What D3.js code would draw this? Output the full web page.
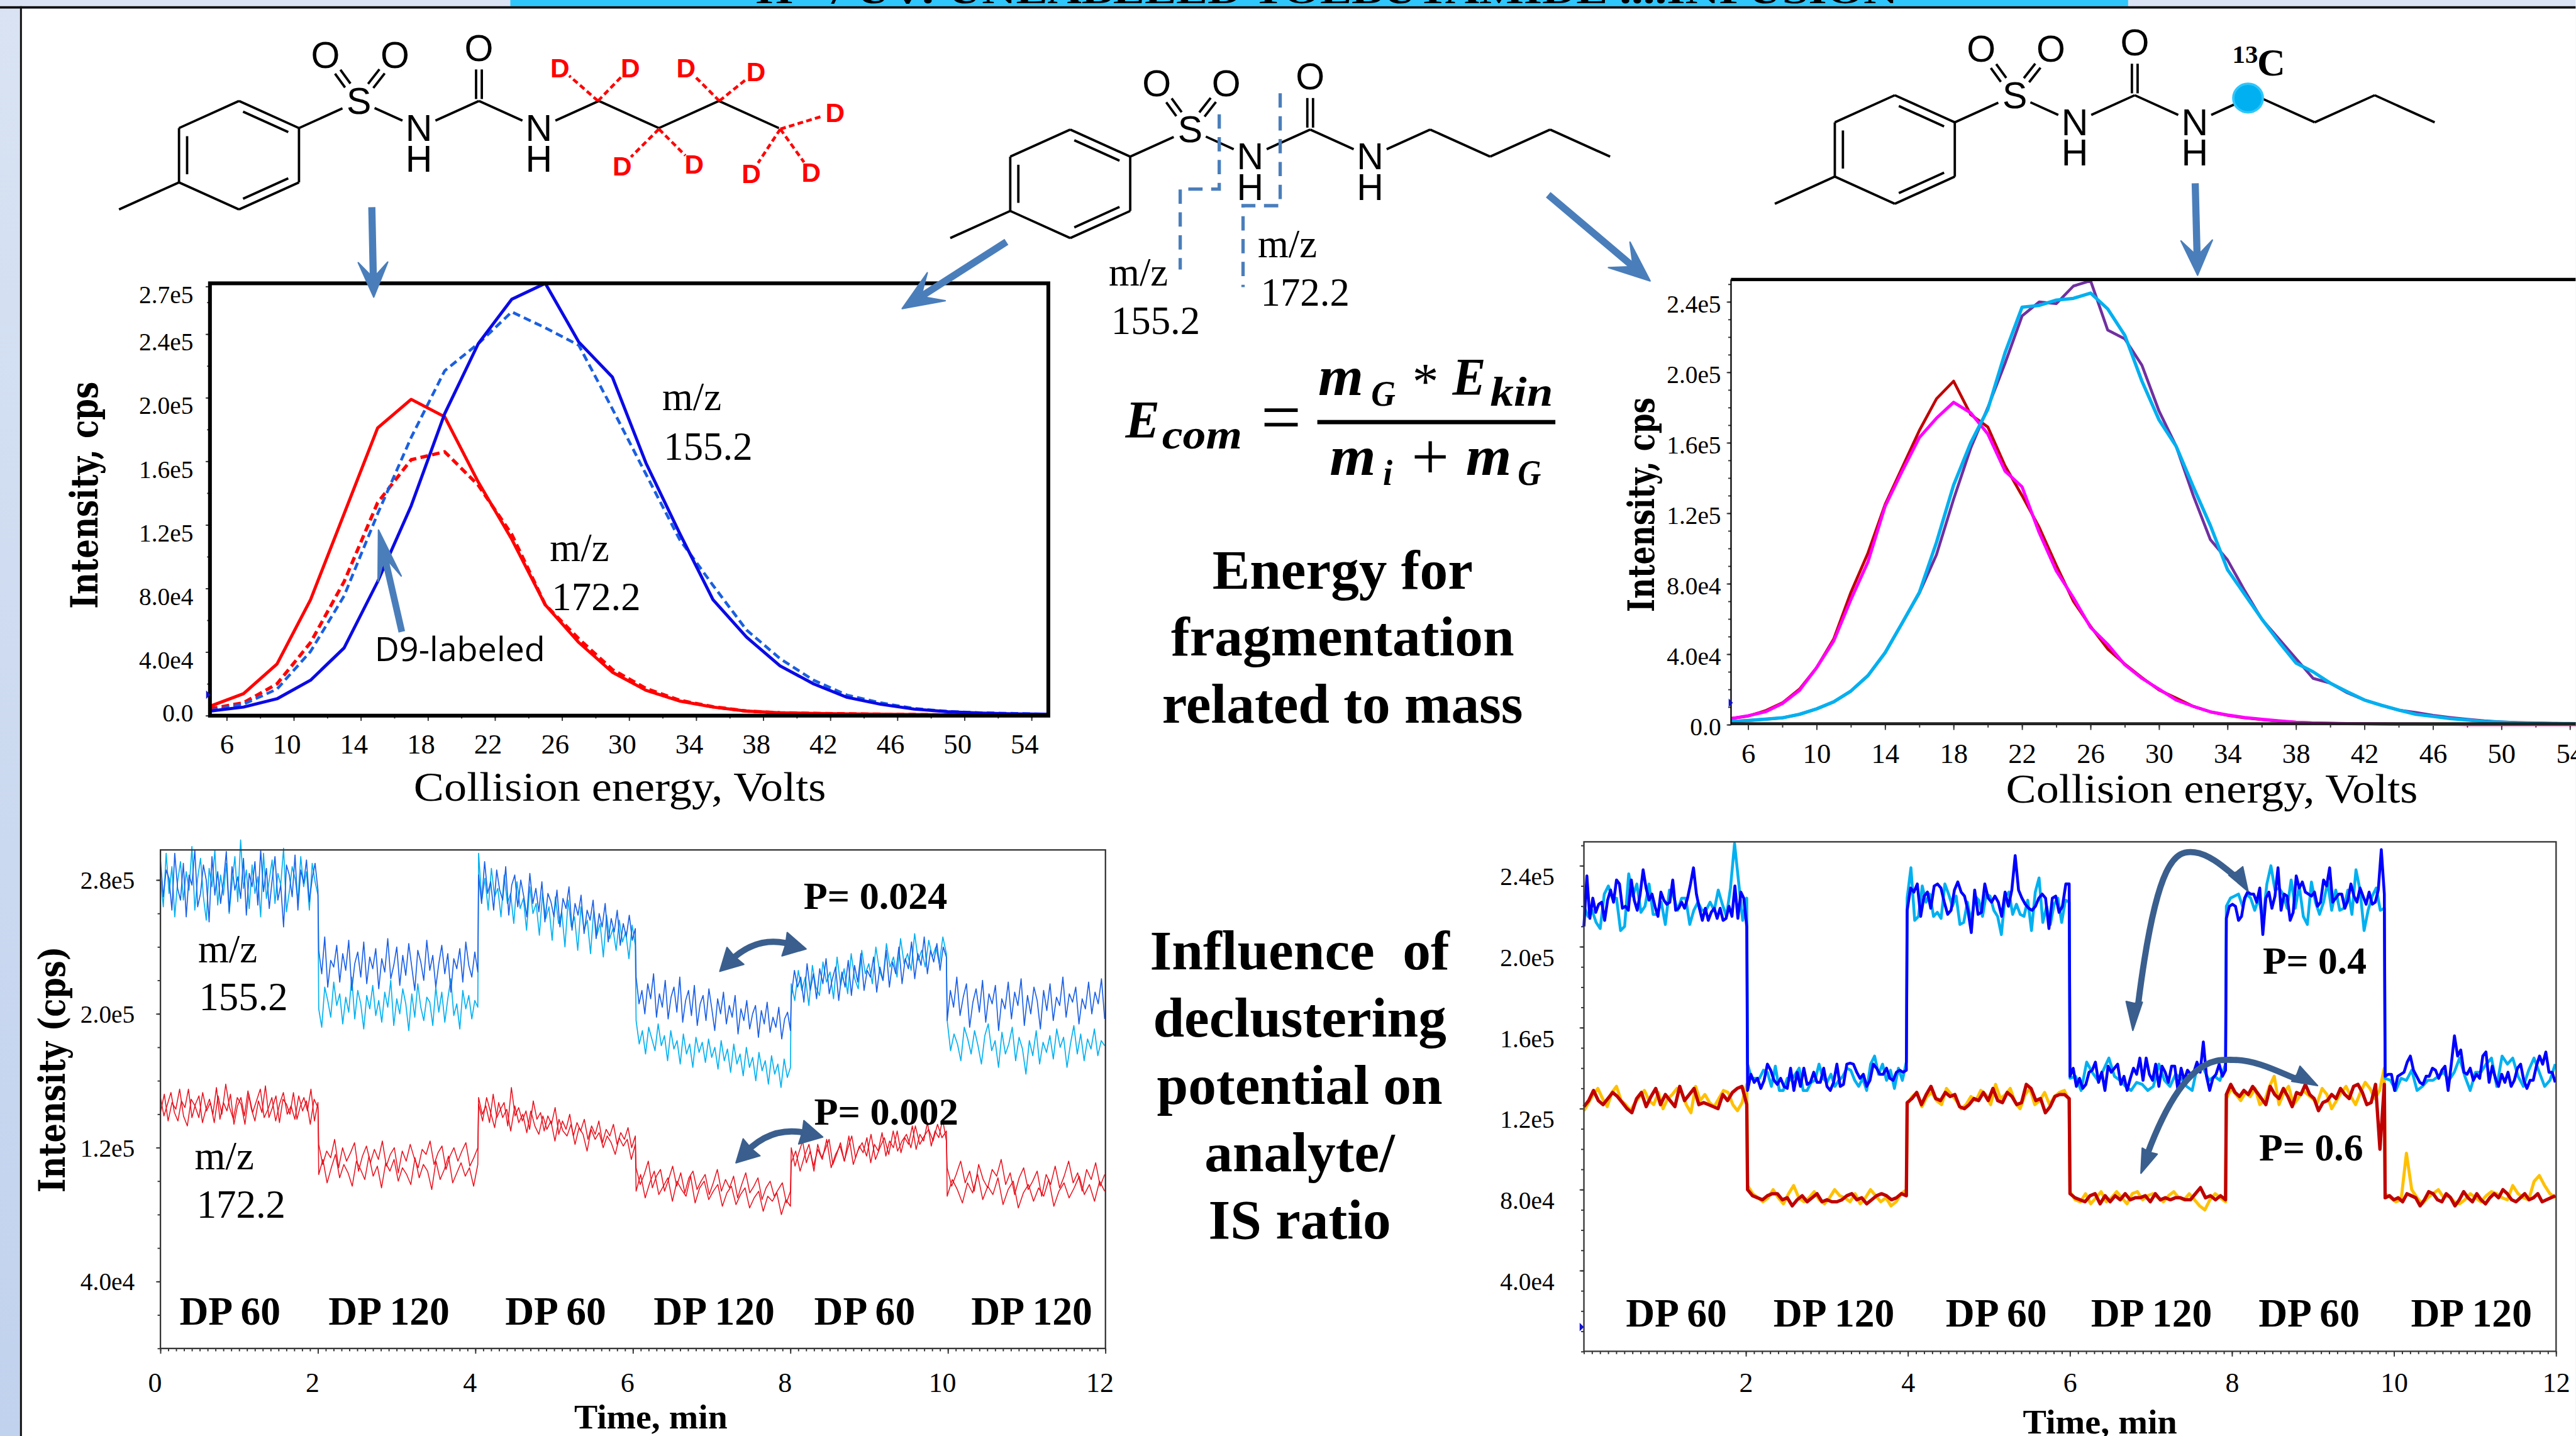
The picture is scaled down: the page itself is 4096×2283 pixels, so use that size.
<!DOCTYPE html>
<meta charset="utf-8">
<style>
body { margin:0; background:white; overflow:hidden; }
text { font-family:"Liberation Serif"; }
</style>
<script src="https://d3js.org/d3.v7.min.js"></script>
<div id="chart"></div>
<script>

// collision energy curves, intensity in thousands of cps
var voltsL = [5,7,9,11,13,15,17,19,21,23,25,27,29,31,33,35,37,39,41,43,45,47,49,51,53,55];
var red172 = [5.9,13.8,32.5,73,127,181,199,188,147,111,69.7,46,27.3,16,9.2,5.4,2.9,1.8,1.4,1.1,.9,.7,.5,.3,.2,.2];
var red172D9 = [4.3,8.1,20,46,84.3,134,161,166,145,114,69.7,48.3,29,17.1,9.7,5.6,2.9,1.8,1.4,1.1,.9,.7,.5,.3,.2,.2];
var blue155 = [2.9,5.4,10.6,22.3,42.6,84.3,132,190,234,262,272,235,213,159,115,73,49.4,31.3,20,11.5,7.2,4.1,2.5,1.6,1.1,.9];
var blue155D9 = [3.2,7.2,16.7,40.4,75.3,127,175,217,234,254,244,233,193,152,111,82,53.9,35.9,22.3,12.9,8.1,4.5,2.7,1.8,1.4,.9];

var voltsR = [5,6,7,8,9,10,11,12,13,14,15,16,17,18,19,20,21,22,23,24,25,26,27,28,29,30,31,32,33,34,35,36,37,38,39,40,41,42,43,44,45,46,47,48,49,50,51,52,53,54,55];
var darkRed = [3.5,4.9,7.9,12.4,20.2,32.4,48.7,75.1,97.5,125,146,167,185,195,176,169,147,130,112,90.4,70,55.8,43,34.4,26.7,19.7,15.1,10.4,7.3,5.3,3.9,2.9,2,1.4,1,.8,.6,.5,.4,.3,.3,.2,.2,.1,.1,.1,.1,.1,.1,.1,.1];
var magenta = [3.5,5.1,7.3,12,19.5,32.4,47.6,71,92.4,124,144,163,174,183,177,165,144,135,109,87.3,72,55.2,45.6,34,26.3,20.2,14,10.4,7.3,5.5,4.1,3.1,2.2,1.4,1,.8,.6,.5,.4,.3,.3,.2,.2,.1,.1,.1,.1,.1,.1,.1,.1];
var purple = [1.8,2.4,3.1,3.9,5.9,9,13,19.1,27.9,40.9,57.8,74.7,96.5,128,157,180,205,232,240,239,249,252,224,219,204,178,158,130,105,93.5,76.1,59.9,48.7,37.5,26.3,23.6,18.1,14,11,8.3,6.9,5.3,4.1,3.1,2.2,1.6,1.2,1,.8,.6,.5];
var cyan = [1.8,2.4,3.1,3.9,5.9,9,13,19.1,27.9,40.9,57.8,75.1,103.5,136,160,179,211,237,238,241,242,245,236,221,195,173,158,135,113,88,74,60,47,35,30,23.6,18.7,14,11,8.3,5.9,4.7,3.5,2.7,1.8,1.4,1,.8,.6,.6,.5];

// declustering potential traces, one inner list per DP step
var edgesL = [0,2.01,4.04,6.04,8.01,9.99,12];
var dp155dark = [
 [292,270,286,281,262,296,275,268,290,258,283,277,298,264,272,289,280,255,294,271,285,266,279,297,261,288,274,282,269,293,259,284,276,291,265,298,273,287,263,280,294,268,277,252,289,283,270,295,262,286,278,292,267,281,290,274],
 [238,224,246,216,232,228,241,219,236,226,244,214,230,237,222,243,218,234,227,239,215,233,225,245,221,229,240,217,235,223,242,228,214,238,231,220,244,226,235,216,230,241,224,236,213,233,227,239,219,243,229,222,237,225],
 [283,266,291,272,279,262,286,274,268,288,259,277,283,264,280,270,258,284,266,275,261,279,255,272,267,258,274,252,269,263,276,250,266,259,271,248,262,256,268,245,260,252,266,243,257,249,262,241,254,246,259,244,251],
 [222,206,214,200,218,209,224,198,212,204,220,197,210,216,201,222,195,208,214,199,217,193,206,211,196,215,203,190,209,200,213,194,205,198,211,188,203,196,208,191,200,205,186,202,194,207,189,198,192,204,185,197,201,190],
 [210,226,216,222,207,230,214,224,209,227,218,233,212,221,228,208,225,216,232,211,229,219,236,214,226,222,234,213,228,220,238,216,231,224,240,218,233,227,243,221,236,229,246,224,238,231,242,226,240,234],
 [196,214,204,222,199,210,218,192,207,215,201,220,195,212,206,217,190,209,203,219,197,213,205,221,193,211,200,216,208,191,214,202,218,196,210,205,222,198,212,207,216,194,209,203,219,200,213,206,221,197]];
var dp155light = [
 [282,264,296,272,288,258,279,291,268,285,274,300,262,281,293,270,256,287,276,298,265,283,271,290,260,278,294,267,304,275,286,263,289,272,282,258,296,269,280,292,266,284,277,299,261,273,288,281,268,294,276,285,262,290,279,271],
 [203,192,216,208,198,219,205,212,194,210,201,222,197,214,206,191,211,203,217,199,208,195,213,204,220,193,209,200,215,206,190,212,198,218,204,196,210,207,193,216,201,213,195,209,221,199,206,191,214,203,211,197,208,204],
 [296,268,281,262,287,270,275,258,283,266,272,254,279,263,269,250,276,260,266,247,272,257,264,244,270,254,261,240,268,252,258,238,264,250,256,236,262,247,254,234,259,245,251,238,256,243,249,233,253,241],
 [196,182,190,176,192,185,178,194,181,187,172,190,179,184,170,188,176,182,168,186,177,183,171,185,174,180,167,184,172,179,165,182,170,176,163,180,168,174,160,177,166,172,158,175,164,170,156,173,162,168],
 [218,208,226,214,222,205,229,216,211,231,219,225,209,234,217,227,212,236,221,215,238,224,230,218,240,226,220,242,228,234,222,245,230,236,226,248,232,238,228,244,234,240,230,246,236],
 [196,178,188,182,172,192,185,176,190,181,170,187,194,178,184,168,189,176,182,192,172,186,179,164,184,175,190,170,183,177,187,173,191,180,186,168,182,193,176,188,172,185,179,191,175,184,181]];
var dp172a = [
 [150,139,146,153,141,136,148,144,155,138,146,151,135,143,149,140,156,137,147,142,152,134,145,150,139,154,143,136,148,141,157,138,144,151,135,149,146,140,153,137,145,150,142,155,136,147],
 [122,110,118,114,125,108,120,112,117,123,106,115,121,111,119,113,124,109,116,120,105,118,112,122,114,108,119,116,124,110,117,121,107,115,120,112,118,123,109,114,120],
 [150,140,145,135,152,138,143,147,133,156,139,144,136,142,131,148,137,141,130,139,134,144,128,136,131,140,127,135,130,137,125,133,128,136,123,131,127,134,122,129,125,132,120,127],
 [108,98,104,112,96,103,107,94,101,109,97,105,93,102,106,95,100,104,92,99,107,94,101,96,103,90,98,105,93,97,102,89,96,100,91,95,99,87,94],
 [120,109,117,124,111,118,106,122,114,119,125,110,116,123,112,120,127,114,121,117,126,111,122,118,129,115,124,120,130,117,126,122,133,119,128,124,135,121,130,126,137,124],
 [108,97,104,112,99,106,94,110,101,96,107,103,113,98,105,92,102,108,95,100,106,91,104,98,109,96,103,112,99,105,94,107,101,111,97,104]];
var dp172b = [
 [141,152,136,147,143,155,139,133,149,145,138,153,142,147,135,151,140,158,144,137,150,146,134,152,141,148,155,138,143,150,136,146,153,140,145,137,151,142,148,134,149,144],
 [104,113,99,108,116,102,110,105,97,112,107,101,115,103,109,96,111,106,113,100,108,104,98,114,102,110,106,95,112,101,107,115,99,105,111,103,108,97,110],
 [146,136,150,141,132,147,138,143,130,145,135,140,129,142,133,128,139,131,136,124,137,130,127,134,122,132,128,118,131,125,129,120,127,123,116,126,121,125,113,122],
 [94,104,90,99,106,92,97,102,88,100,95,91,103,87,96,100,89,94,98,85,93,97,86,92,96,84,90,94,82,91,88,93,80,89,85],
 [111,118,106,115,122,109,119,113,125,108,116,121,112,127,110,118,123,115,128,113,120,126,116,130,118,124,128,120,133,122,127,131,124,134,126,130],
 [91,101,95,87,99,93,104,89,97,92,102,86,95,100,84,93,98,88,96,91,101,85,94,99,90,96,103,92,98,88,100,94]];

var edgesR = [0,2.02,3.99,6,7.93,9.89,12];
var c13blue = [
 [210,235,214,224,217,221,222,213,223,228,222,233,231,219,220,218,233,223,218,226,238,229,223,226,220,215,227,223,221,222,233,218,219,222,219,224,231,239,226,219,213,219,213,217,219,214,219,213,214,220,215,230,214,227,224,210],
 [129,137,133,135,130,134,142,139,134,132,135,131,130,140,129,138,131,140,132,133,138,133,133,140,131,129,133,142,131,132,142,142.5,142,138,135,137,131,134,142,140,137,137,140,135,134,138,139,138,139],
 [218,229,227,231,215,225,227,219,230,231,229,222,216,218,228,232,227,225,218,207,228,216,217,231,224,222,225,222,215,227,220,228,245,228,224,221,219,218,220,224,226,224,209,224,225,217,220,231,231],
 [136,140,131,135,130,132,138,139,143,133,138,129,141,138,140,142,132,136,129,135,140,137,145,134,145,137,134,142,131,141,138,133,141,141,129,140,134,139,137,138,143,138,153,136,129,135,137,142,136,139],
 [214,220,221,220,213,215,224,227,226,226,222,229,206,224,227,219,225,239,218,226,225,213,217,235,229,232,227,226,225,227,220,222,233,230,239,222,224,226,226,219,223,231,225,222,229,225,221,227,221,222,228,248,226],
 [136,137,137,129,136,137,138,143,146,139,136,133,132,136,136,140,139,135,139,141,129,142,156,146,149,138,137,140,134,137,135,146,148,133,141,135,131,137,133,138,131,134,140,142,134,130,134,134,141,146,142,148,138,138,133]];
var c13cyan = [
 [220,215,218,212,209,226,230,224,224,208,210,236,225,231,217,220,231,216,216,222,211,228,225,218,224,224,211,218,222,218,218,222,218,228,221,215,229,251,232,213,224],
 [142,135,135,135,139,138,131,141,129,129,135,134,137,140,129,129,133,134,142,135,133,137,131,134,136,140,139,134,131,135,129,142,146,137,142,134,139,130,140,134,143],
 [224,239,213,215,230,222,226,215,217,214,231,226,220,225,211,212,222,212,225,223,215,226,225,218,215,206,225,227,216,221,216,215,223,208,227,234,212,220,211,221,224,212,223,222],
 [135,136,129,143,138,134,139,145,136,134,131,129,133,132,129,131,142,134,131,137,135,131,129,142,140,134,136,134,142],
 [220,224,225,226,220,226,224,218,224,213,231,240,228,229,226,219,233,219,230,215,211,232,222,216,222,232,218,228,218,219,228,216,238,228,208,218,225,229,218,219],
 [135,134,129,135,134,139,129,131,134,134,136,138,134,138,145,136,129,138,138,142,145,131,146,142,145,136,131,139,145,138,131,134,142]];
var c13red = [
 [121,124,129,124,122,125,128,126,123,120,118,125,128,121,126,130,122,127,124,121,131,124,127,130,122,123,122,121,120,127,124,128,130,131,122],
 [80,77,76,75,77,78,78,75,76,72,75,77,74,76,78,74,75,74,74,75,77,78,75,76,73,75,77,78,77,75,76,78,77],
 [123,125,128,122,127,131,125,124,128,126,127,121,120,122,125,124,128,124,130,124,123,128,126,122,123,132,130,124,125,118,121,126,127,127,125],
 [78,76,75,74,77,78,73,77,74,77,75,78,75,76,76,77,74,78,75,76,75,76,76,75,75,78,81,76,77,75,77,75],
 [127,132,128,126,129,127,131,128,125,122,131,127,125,130,126,121,128,127,132,127,125,119,123,124,127,125,130,127,125,131,132,128,122,123,132,100,132],
 [76,77,75,76,74,78,77,76,72,75,79,78,75,74,78,76,72,75,79,76,74,78,75,73,76,78,76,80,78,75,74,76,78,75,76,78,74,75,76,77]];
var c13orange = [
 [119,123,127,130,125,121,128,131,124,122,119,123,126,129,124,122,128,120,125,127,130,128,122,118,131,124,127,123,121,125,129,128,122,119,123,132],
 [82,78,76,74,76,80,76,73,78,82,76,74,76,79,75,73,76,80,77,76,74,78,73,76,80,77,74,76,72,74,78,80],
 [122,126,128,121,126,128,124,122,130,127,124,120,122,126,124,129,127,122,132,125,127,130,123,120,127,130,122,124,128,122,126,128,129,124],
 [79,75,74,78,73,76,79,74,76,79,76,73,78,79,75,77,78,76,74,77,79,76,75,78,75,72,70,75,78,76,74],
 [125,130,127,124,128,126,130,122,124,131,136,122,128,131,122,125,129,127,125,123,130,127,120,124,128,131,126,122,128,133,130,125,129,140],
 [78,76,74,75,98,80,76,73,76,78,80,76,77,74,73,75,78,76,74,77,79,78,76,75,82,78,76,75,84,87,82,78,76]];

// tick values and labels
var energyTicksL = [6,10,14,18,22,26,30,34,38,42,46,50,54];
var energyTicksR = [6,10,14,18,22,26,30,34,38,42,46,50,54];
var yTicksA = [0,40,80,120,160,200,240,270];
var yLabelsA = ["0.0","4.0e4","8.0e4","1.2e5","1.6e5","2.0e5","2.4e5","2.7e5"];
var yTicksB = [0,40,80,120,160,200,240];
var yLabelsB = ["0.0","4.0e4","8.0e4","1.2e5","1.6e5","2.0e5","2.4e5"];
var yTicksC = [40,120,200,280];
var yLabelsC = ["4.0e4","1.2e5","2.0e5","2.8e5"];
var yTicksD = [40,80,120,160,200,240];
var yLabelsD = ["4.0e4","8.0e4","1.2e5","1.6e5","2.0e5","2.4e5"];
var timeTicksL = [0,2,4,6,8,10,12];
var timeTicksR = [2,4,6,8,10,12];
var dpLabels = ["DP 60","DP 120","DP 60","DP 120","DP 60","DP 120"];

var arrowBlue = "#4a7ebb", curveBlue = "#3a5f8e";

var svg = d3.select("#chart").append("svg").attr("width",4096).attr("height",2283);
var root = svg.append("g").attr("transform","scale(0.757)");
var defs = svg.append("defs");
var grad = defs.append("linearGradient").attr("id","bg").attr("x1",0).attr("x2",0).attr("y1",0).attr("y2",1);
grad.append("stop").attr("offset",0).attr("stop-color","#d9e3f3");
grad.append("stop").attr("offset",1).attr("stop-color","#c1d2ee");
defs.append("clipPath").attr("id","topbar").append("rect").attr("x",0).attr("y",0).attr("width",5410).attr("height",13);

// page background and title strip
root.append("rect").attr("width",5410).attr("height",3016).attr("fill","url(#bg)");
root.append("rect").attr("x",46).attr("y",18).attr("width",5364).attr("height",2998).attr("fill","white");
root.append("rect").attr("x",1072).attr("y",0).attr("width",3398).attr("height",13).attr("fill","#2ec6fb");
root.append("rect").attr("x",0).attr("y",13).attr("width",5410).attr("height",5).attr("fill","#111");
root.append("rect").attr("x",42).attr("y",13).attr("width",4).attr("height",3003).attr("fill","#111");

function txt(x,y,s,o) {
  o = o || {};
  var t = root.append("text").attr("x",x).attr("y",y).text(s)
    .attr("font-size",o.size||83).attr("fill",o.fill||"black")
    .attr("text-anchor",o.anchor||"start");
  if (o.weight) t.attr("font-weight",o.weight);
  if (o.italic) t.attr("font-style","italic");
  if (o.family) t.style("font-family",o.family);
  if (o.len) t.attr("textLength",o.len).attr("lengthAdjust","spacingAndGlyphs");
  if (o.rotate) t.attr("transform","rotate("+o.rotate+" "+x+" "+y+")");
  return t;
}

txt(1588,7,"H+ / UV: UNLABELED TOLBUTAMIDE ....INFUSION",{size:72,weight:"bold",len:2398}).attr("clip-path","url(#topbar)");

function seg(x1,y1,x2,y2,w,col,dash) {
  var l = root.append("line").attr("x1",x1).attr("y1",y1).attr("x2",x2).attr("y2",y2)
    .attr("stroke",col||"black").attr("stroke-width",w||5);
  if (dash) l.attr("stroke-dasharray",dash);
  return l;
}

// molecule skeleton, grid of 126 by 57 from the top corner of the ring
function molecule(ox,oy) {
  var P = function(a,b) { return [ox+a*126, oy+b*57]; };
  function bond(a,b,ta,tb,off) {
    var p = P(a[0],a[1]), q = P(b[0],b[1]);
    var dx = q[0]-p[0], dy = q[1]-p[1], L = Math.hypot(dx,dy), ux = dx/L, uy = dy/L;
    off = off||0;
    seg(p[0]+ux*(ta||0)-uy*off, p[1]+uy*(ta||0)+ux*off, q[0]-ux*(tb||0)-uy*off, q[1]-uy*(tb||0)+ux*off);
  }
  var ring = [[0,0],[1,1],[1,3],[0,4],[-1,3],[-1,1]];
  ring.forEach(function(a,i){ bond(a,ring[(i+1)%6]); });
  bond(ring[0],ring[1],17,17,17); bond(ring[2],ring[3],17,17,17); bond(ring[4],ring[5],17,17,17);
  bond([-1,3],[-2,4]);
  bond([1,1],[2,0],0,38);
  bond([2,0],[3,1],36,38);
  bond([3,1],[4,0],38,0);
  bond([4,0],[5,1],0,38);
  bond([5,1],[6,0],38,0);
  bond([6,0],[7,1]); bond([7,1],[8,0]); bond([8,0],[9,1]);
  bond([4,0],[4,-1.95],4,45,6); bond([4,0],[4,-1.95],4,45,-6);
  bond([2,0],[1.44,-1.7],40,44,7); bond([2,0],[1.44,-1.7],40,44,-7);
  bond([2,0],[2.6,-1.7],40,44,7); bond([2,0],[2.6,-1.7],40,44,-7);
  [["S",2,0],["O",1.44,-1.7],["O",2.6,-1.7],["O",4,-1.95]].forEach(function(a){
    var p = P(a[1],a[2]);
    txt(p[0],p[1]+27,a[0],{size:78,anchor:"middle",family:"Liberation Sans"});
  });
  [3,5].forEach(function(a){
    var p = P(a,1);
    var t = txt(p[0],p[1]+27,"N",{size:78,anchor:"middle",family:"Liberation Sans"});
    t.append("tspan").attr("x",p[0]).attr("dy",64).text("H");
  });
}

molecule(502,212);
molecule(2248,272);
molecule(3980,200);

// deuterium labels on the first molecule
[[1176,142,1256,212],[1324,142,1256,212],[1441,142,1511,212],[1588,150,1511,212],[1754,236,1639,271],
 [1307,348,1384,271],[1458,345,1384,271],[1578,364,1639,271],[1704,362,1639,271]].forEach(function(d){
  var dx = d[0]-d[2], dy = d[1]-d[3], L = Math.hypot(dx,dy);
  seg(d[2],d[3],d[0]-dx/L*26,d[1]-dy/L*26,6,"#ff0000","12 7");
  txt(d[0],d[1]+20,"D",{size:56,weight:"bold",anchor:"middle",fill:"#ff0000",family:"Liberation Sans"});
});

// 13C label and labelled carbon
root.append("ellipse").attr("cx",4722).attr("cy",206).attr("rx",31).attr("ry",30).attr("fill","#00b0f0").attr("stroke","#2ec6fb").attr("stroke-width",5);
txt(4689,132,"13",{size:54,weight:"bold"});
txt(4741,159,"C",{size:82,weight:"bold"});

// cut lines on the middle molecule
root.append("path").attr("d","M2561,240V397H2479V566").attr("fill","none").attr("stroke",arrowBlue).attr("stroke-width",7).attr("stroke-dasharray","30 18");
root.append("path").attr("d","M2689,196V432H2611V603").attr("fill","none").attr("stroke",arrowBlue).attr("stroke-width",7).attr("stroke-dasharray","30 18");

function head(x,y,ang,L,W,notch,col) {
  var c = Math.cos(ang), s = Math.sin(ang);
  function pt(a,b) { return (x-c*a-s*b)+","+(y-s*a+c*b); }
  root.append("polygon").attr("points",[pt(0,0),pt(L,W/2),pt(L*notch,0),pt(L,-W/2)].join(" ")).attr("fill",col).attr("stroke",col).attr("stroke-width",3).attr("stroke-linejoin","round");
}
function arrow(x1,y1,x2,y2,w,L,W) {
  var ang = Math.atan2(y2-y1,x2-x1);
  seg(x1,y1,x2-Math.cos(ang)*L*.4,y2-Math.sin(ang)*L*.4,w,arrowBlue);
  head(x2,y2,ang,L,W,.55,arrowBlue);
}
function curve(d,w,tips) {
  root.append("path").attr("d",d).attr("fill","none").attr("stroke",curveBlue).attr("stroke-width",w);
  tips.forEach(function(t){ head(t[0],t[1],t[2],t[3],t[4],.95,curveBlue); });
}

// axis drawing shared by the four plots
function styleAxis(g,size) {
  g.select(".domain").remove();
  g.selectAll("line").attr("stroke","#333").attr("stroke-width",2.5);
  g.selectAll("text").attr("font-size",size).attr("fill","black").style("font-family","Liberation Serif");
}
function leftAxis(y,left,vals,labels,minor,gap,off,zeroOff) {
  var m = root.append("g").attr("transform","translate("+left+",0)").call(d3.axisLeft(y).tickValues(minor).tickSize(6).tickFormat(""));
  styleAxis(m,10);
  var g = root.append("g").attr("transform","translate("+left+",0)")
    .call(d3.axisLeft(y).tickValues(vals).tickSize(9).tickFormat(function(d,i){ return labels[i]; }));
  styleAxis(g,52);
  g.selectAll("text").attr("x",-gap).attr("dy",function(d){ return (d==0 && zeroOff!==undefined ? zeroOff : off)+18; });
}
function bottomAxis(x,base,vals,minor,labelY,size,shift) {
  var m = root.append("g").attr("transform","translate(0,"+base+")").call(d3.axisBottom(x).tickValues(minor).tickSize(6).tickFormat(""));
  styleAxis(m,10);
  var g = root.append("g").attr("transform","translate(0,"+base+")")
    .call(d3.axisBottom(x).tickValues(vals).tickSize(11));
  styleAxis(g,size);
  g.selectAll("text").attr("y",labelY-base).attr("dy",0).attr("dx",function(d){ return shift(d); });
}
function plotLine(x,y,xs,ys,col,w,dash) {
  var line = d3.line().x(function(d){ return x(d[0]); }).y(function(d){ return y(d[1]); });
  var p = root.append("path").datum(d3.zip(xs,ys)).attr("d",line).attr("fill","none")
    .attr("stroke",col).attr("stroke-width",w).attr("stroke-linejoin","round");
  if (dash) p.attr("stroke-dasharray",dash);
}
function stepped(x,y,segs,edges,col,w) {
  var pts = [];
  segs.forEach(function(vals,i){
    var t = d3.scaleLinear().domain([0,vals.length-1]).range([edges[i],edges[i+1]-.01]);
    vals.forEach(function(v,j){ pts.push([t(j),v]); });
  });
  plotLine(x,y,pts.map(function(p){return p[0];}),pts.map(function(p){return p[1];}),col,w);
}
function wideTitle(x,y,s,len,size) {
  txt(x,y,s,{size:size,weight:"bold",family:"DejaVu Serif",rotate:-90,len:len,anchor:"middle"});
}
function pick(v,step) { return d3.range(v[0],v[1]+.001,step); }

// top left plot, D9 label
var xA = d3.scaleLinear().domain([5,55]).range([441,2202]);
var yA = d3.scaleLinear().domain([0,272]).range([1503,595]);
leftAxis(yA,441,yTicksA,yLabelsA,pick([0,260],20),35,16,-6);
bottomAxis(xA,1503,energyTicksL,pick([6,54],2),1583,59,function(d){ return d==6 ? 0 : -15; });
plotLine(xA,yA,voltsL,red172D9,"#ff0000",7,"16 9");
plotLine(xA,yA,voltsL,blue155D9,"#1a5fe0",6,"16 9");
plotLine(xA,yA,voltsL,red172,"#ff0000",6.5);
plotLine(xA,yA,voltsL,blue155,"#0a0ae6",6.5);
root.append("rect").attr("x",441).attr("y",595).attr("width",1761).attr("height",908).attr("fill","none").attr("stroke","black").attr("stroke-width",8);
wideTitle(205,1040,"Intensity, cps",477,78);
txt(1302,1681,"Collision energy, Volts",{size:86,anchor:"middle",len:866});
txt(1391,861,"m/z"); txt(1394,966,"155.2");
txt(1155,1178,"m/z"); txt(1159,1282,"172.2");
txt(787,1389,"D9-labeled",{size:70,family:"Open Sans",len:358});
arrow(844,1327,795,1113,14,105,50);

// top right plot, 13C label
var xB = d3.scaleLinear().domain([5,54.33]).range([3636,5410]);
var yB = d3.scaleLinear().domain([0,252.7]).range([1522,587]);
leftAxis(yB,3636,yTicksB,yLabelsB,pick([0,250],10),21,4);
bottomAxis(xB,1522,energyTicksR,pick([6,54],2),1602,59,function(){ return 0; });
plotLine(xB,yB,voltsR,darkRed,"#c00000",6);
plotLine(xB,yB,voltsR,purple,"#7030a0",6);
plotLine(xB,yB,voltsR,magenta,"#ff00ff",6.5);
plotLine(xB,yB,voltsR,cyan,"#00b0f0",7);
seg(3636,587,5410,587,7,"black");
seg(3636,1520,5410,1520,6,"#222");
seg(3636,587,3636,1522,3,"black");
wideTitle(3474,1060,"Intensity, cps",451,76);
txt(4646,1686,"Collision energy, Volts",{size:86,anchor:"middle",len:865});

// blue pointers from molecules to plots
arrow(781,435,785,624,15,73,62);
arrow(2114,508,1895,648,15,85,70);
arrow(3252,409,3466,590,15,85,70);
arrow(4611,385,4616,578,15,73,66);

// middle text
txt(2329,600,"m/z"); txt(2334,701,"155.2");
txt(2642,540,"m/z"); txt(2648,642,"172.2");
function mt(x,y,s,size,len) { txt(x,y,s,{size:size,weight:"bold",italic:true,len:len}); }
mt(2364,920,"E",112,72); mt(2441,942,"com",86,168);
txt(2691,928,"=",{size:150,anchor:"middle"});
mt(2769,830,"m",118,95); mt(2880,852,"G",76,51);
txt(2994,838,"*",{size:110,anchor:"middle"});
mt(3051,830,"E",112,70); mt(3130,852,"kin",86,132);
root.append("rect").attr("x",2767).attr("y",882).attr("width",500).attr("height",9).attr("fill","black");
mt(2793,998,"m",118,97); mt(2905,1018,"i",76,20);
txt(3004,1006,"+",{size:140,anchor:"middle"});
mt(3079,998,"m",118,96); mt(3188,1018,"G",76,49);
["Energy for","fragmentation","related to mass"].forEach(function(s,i){
  txt(2820,[1236,1377,1518][i],s,{size:118,weight:"bold",anchor:"middle"});
});
["Influence  of","declustering","potential on","analyte/","IS ratio"].forEach(function(s,i){
  txt(2730,[2036,2177,2318,2460,2601][i],s,{size:118,weight:"bold",anchor:"middle"}).style("white-space","pre");
});

// bottom left plot
var xC = d3.scaleLinear().domain([0,12]).range([337,2322]);
var yC = d3.scaleLinear().domain([0,298]).range([2832,1785]);
leftAxis(yC,337,yTicksC,yLabelsC,pick([0,280],20),54,0);
bottomAxis(xC,2832,timeTicksL,pick([0,12],.1),2924,58,function(){ return -12; });
stepped(xC,yC,dp155light,edgesL,"#00b0f0",2.2);
stepped(xC,yC,dp155dark,edgesL,"#1a5fe6",2.2);
stepped(xC,yC,dp172b,edgesL,"#e8101c",2);
stepped(xC,yC,dp172a,edgesL,"#e8101c",2);
root.append("rect").attr("x",337).attr("y",1785).attr("width",1985).attr("height",1047).attr("fill","none").attr("stroke","#333").attr("stroke-width",3);
wideTitle(136,2246,"Intensity (cps)",517,76);
txt(1367,3000,"Time, min",{size:73,weight:"bold",anchor:"middle",len:322});
txt(416,2021,"m/z"); txt(418,2122,"155.2");
txt(409,2456,"m/z"); txt(413,2557,"172.2");
txt(1688,1909,"P= 0.024",{size:82,weight:"bold",len:302});
txt(1710,2362,"P= 0.002",{size:82,weight:"bold",len:303});
[377,690,1061,1373,1710,2040].forEach(function(x,i){ txt(x,2782,dpLabels[i],{size:84,weight:"bold"}); });
curve("M1522,2030Q1590,1955 1675,1988",13,[[1512,2040,2.36,46,50],[1693,1993,.22,46,50]]);
curve("M1556,2432Q1620,2355 1710,2384",13,[[1546,2442,2.36,46,50],[1728,2388,.22,46,50]]);

// bottom right plot
var xD = d3.scaleLinear().domain([0,12]).range([3327,5369]);
var yD = d3.scaleLinear().domain([0,251.7]).range([2838.6,1768.5]);
leftAxis(yD,3327,yTicksD,yLabelsD,pick([0,250],10),62,22);
bottomAxis(xD,2838,timeTicksR,pick([0,12],.1),2924,58,function(){ return 0; });
stepped(xD,yD,c13orange,edgesR,"#ffc000",6.5);
stepped(xD,yD,c13red,edgesR,"#c00000",7);
stepped(xD,yD,c13cyan,edgesR,"#00b0f0",6);
stepped(xD,yD,c13blue,edgesR,"#0000ff",6);
root.append("rect").attr("x",3327).attr("y",1768).attr("width",2042).attr("height",1070).attr("fill","none").attr("stroke","#333").attr("stroke-width",3);
txt(4411,3011,"Time, min",{size:73,weight:"bold",anchor:"middle",len:324});
[3415,3725,4087,4392,4744,5064].forEach(function(x,i){ txt(x,2786,dpLabels[i],{size:84,weight:"bold"}); });
txt(4753,2045,"P= 0.4",{size:81,weight:"bold",len:218});
txt(4745,2437,"P= 0.6",{size:81,weight:"bold",len:219});
curve("M4491,2110C4530,1800 4570,1785 4610,1790C4650,1795 4690,1840 4708,1850",13,[[4480,2164,1.62,60,34],[4722,1872,1.03,50,34]]);
curve("M4510,2425C4590,2210 4660,2226 4692,2226C4750,2226 4810,2265 4838,2270",13,[[4497,2464,1.95,50,34],[4868,2280,.5,52,36]]);

// small blue markers at the axes
[[433,1459],[3631,1476],[3318,2787]].forEach(function(p){
  root.append("path").attr("d","M"+p[0]+","+(p[1]-9)+"l9,9l-9,9z").attr("fill","#1010d0");
});

</script>
